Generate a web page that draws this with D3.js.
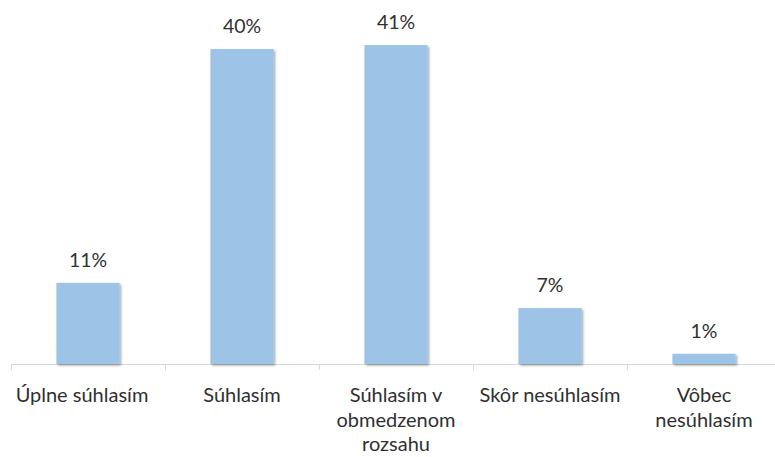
<!DOCTYPE html>
<html>
<head>
<meta charset="utf-8">
<script src="https://cdn.jsdelivr.net/npm/d3@7"></script>
<style>
  html, body { margin: 0; padding: 0; background: #fff; }
  svg { display: block; }
  text { font-family: Lato, "Open Sans", sans-serif; fill: #303030; }
</style>
</head>
<body>
<svg id="chart" width="775" height="457"></svg>
<script>
const categories = ["Úplne súhlasím", "Súhlasím", "Súhlasím v obmedzenom rozsahu", "Skôr nesúhlasím", "Vôbec nesúhlasím"];
const categoryLines = [["Úplne súhlasím"], ["Súhlasím"], ["Súhlasím v", "obmedzenom", "rozsahu"], ["Skôr nesúhlasím"], ["Vôbec", "nesúhlasím"]];
const values = [10.3, 40, 40.5, 7.1, 1.3];
const valueLabels = ["11%", "40%", "41%", "7%", "1%"];

const W = 775, H = 457;
const baseY = 364;
const svg = d3.select("#chart");

const defs = svg.append("defs");
const f = defs.append("filter").attr("id", "shadow").attr("x", "-20%").attr("y", "-20%").attr("width", "140%").attr("height", "140%");
f.append("feDropShadow").attr("dx", 1.5).attr("dy", 1.5).attr("stdDeviation", 1.2).attr("flood-color", "#000").attr("flood-opacity", 0.35);

const x = d3.scaleBand().domain(categories).range([11, 781]).paddingInner(0.59).paddingOuter(0.295);
const y = d3.scaleLinear().domain([0, 40]).range([baseY, 49]);

// axis line and ticks
const step = x.step();
svg.append("line").attr("x1", 11).attr("x2", 781).attr("y1", baseY + 0.5).attr("y2", baseY + 0.5)
  .attr("stroke", "#d9d9d9").attr("stroke-width", 1);
const tickXs = d3.range(categories.length + 1).map(i => 11 + i * step);
svg.selectAll("line.tick").data(tickXs).join("line").attr("class", "tick")
  .attr("x1", d => Math.round(d) + 0.5).attr("x2", d => Math.round(d) + 0.5)
  .attr("y1", baseY).attr("y2", baseY + 6)
  .attr("stroke", "#d9d9d9").attr("stroke-width", 1);

// bars
svg.selectAll("rect.bar").data(values).join("rect").attr("class", "bar")
  .attr("x", (d, i) => x(categories[i]))
  .attr("width", x.bandwidth())
  .attr("y", d => y(d))
  .attr("height", d => baseY - y(d))
  .attr("fill", "#9dc3e6")
  .attr("filter", "url(#shadow)");

// value labels
svg.selectAll("text.val").data(values).join("text").attr("class", "val")
  .attr("x", (d, i) => x(categories[i]) + x.bandwidth() / 2)
  .attr("y", d => y(d) - 16)
  .attr("text-anchor", "middle")
  .attr("font-size", 19.5)
  .text((d, i) => valueLabels[i]);

// category labels
const offsets = [-6, 0, 0, 0, 0];
categoryLines.forEach((lines, i) => {
  const cx = x(categories[i]) + x.bandwidth() / 2 + offsets[i];
  const t = svg.append("text").attr("text-anchor", "middle").attr("font-size", 20);
  lines.forEach((ln, j) => {
    t.append("tspan").attr("x", cx).attr("y", 402 + j * 24.5).text(ln);
  });
});
</script>
</body>
</html>
